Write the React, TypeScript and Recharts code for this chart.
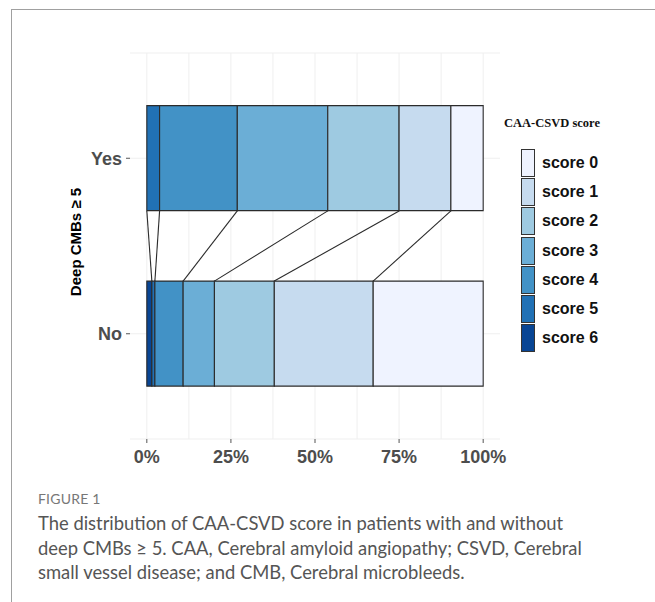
import {
  Bar,
  BarChart,
  CartesianGrid,
  Legend,
  ReferenceLine,
  XAxis,
  YAxis,
} from "recharts";

const categories = ["Yes", "No"];
const scores = ["score 0", "score 1", "score 2", "score 3", "score 4", "score 5", "score 6"];
const colors = ["#eff3ff", "#c6dbef", "#9ecae1", "#6baed6", "#4292c6", "#2171b5", "#084594"];

// percent of patients per score, index = score
const yesValues = [9.6, 15.4, 21.2, 26.9, 23.1, 3.8, 0];
const noValues = [32.7, 29.4, 17.8, 9.3, 8.4, 0.9, 1.5];

const xTicks = [0, 25, 50, 75, 100];
const gridValues = [0, 12.5, 25, 37.5, 50, 62.5, 75, 87.5, 100];

// bars stack from score 6 on the left to score 0 on the right
const stackOrder = [6, 5, 4, 3, 2, 1, 0];

const data = categories.map((name, i) => {
  const vals = i === 0 ? yesValues : noValues;
  const row: Record<string, string | number> = { name };
  scores.forEach((s, j) => {
    row[s] = vals[j];
  });
  return row;
});

const edges = (vals: number[]) => {
  let acc = 0;
  return stackOrder.slice(0, -1).map((j) => (acc += vals[j]));
};
const yesEdges = edges(yesValues);
const noEdges = edges(noValues);

const tickStyle = {
  fill: "#4d4d4d",
  fontSize: 18,
  fontWeight: 700,
  fontFamily: "'Liberation Sans', Arial, sans-serif",
};

function ScoreLegend() {
  return (
    <div style={{ fontFamily: "'Liberation Sans', Arial, sans-serif" }}>
      <div
        style={{
          fontFamily: "'Liberation Serif', 'Times New Roman', serif",
          fontWeight: 700,
          fontSize: 12.5,
          color: "#111",
          marginBottom: 17,
          whiteSpace: "nowrap",
        }}
      >
        CAA-CSVD score
      </div>
      {scores.map((s, i) => (
        <div
          key={s}
          style={{ display: "flex", alignItems: "center", height: 29.3, marginLeft: 17 }}
        >
          <div
            style={{
              width: 12,
              height: 26,
              background: colors[i],
              border: "1px solid #333",
            }}
          />
          <span style={{ marginLeft: 7, fontSize: 16, fontWeight: 700, color: "#111" }}>
            {s}
          </span>
        </div>
      ))}
    </div>
  );
}

export default function App() {
  return (
    <div style={{ position: "absolute", left: 0, top: 0, width: 655, height: 602, background: "#fff" }}>
      <div style={{ position: "absolute", left: 11, top: 9, width: 644, height: 1, background: "#a0a0a0" }} />
      <div style={{ position: "absolute", left: 11, top: 9, width: 1, height: 593, background: "#a0a0a0" }} />

      <div style={{ position: "absolute", left: 0, top: 0 }}>
        <BarChart
          width={655}
          height={480}
          data={data}
          layout="vertical"
          barCategoryGap="20%"
          margin={{ top: 53, right: 155, bottom: 11, left: 80 }}
        >
          <CartesianGrid
            stroke="#efefef"
            verticalCoordinatesGenerator={({ xAxis, offset }: any) =>
              gridValues.map((v) =>
                typeof xAxis?.scale === "function"
                  ? xAxis.scale(v)
                  : offset.left + ((v + 5) / 110) * offset.width
              )
            }
          />
          <XAxis
            type="number"
            domain={[-5, 105]}
            ticks={xTicks}
            allowDataOverflow
            tickFormatter={(v) => `${v}%`}
            axisLine={false}
            tickLine={{ stroke: "#555" }}
            tickSize={4}
            tickMargin={7}
            height={30}
            tick={tickStyle}
          />
          <YAxis
            type="category"
            dataKey="name"
            width={50}
            axisLine={false}
            tickLine={{ stroke: "#555" }}
            tickSize={4}
            tickMargin={4}
            padding={{ top: 17.5, bottom: 17.5 }}
            tick={tickStyle}
            label={{
              content: ({ viewBox }: any) => (
                <text
                  x={viewBox.x - 5}
                  y={viewBox.y + viewBox.height / 2 - 4}
                  transform={`rotate(-90 ${viewBox.x - 5} ${viewBox.y + viewBox.height / 2 - 4})`}
                  textAnchor="middle"
                  dominantBaseline="central"
                  fontSize={15}
                  fontWeight={700}
                  fontFamily="'Liberation Sans', Arial, sans-serif"
                  fill="#000"
                >
                  Deep CMBs ≥ 5
                </text>
              ),
            }}
          />
          <YAxis
            yAxisId="num"
            type="number"
            domain={[0, 1]}
            allowDataOverflow
            hide
            padding={{ top: 17.5, bottom: 17.5 }}
          />
          {stackOrder.map((j) => (
            <Bar
              key={scores[j]}
              dataKey={scores[j]}
              stackId="a"
              fill={colors[j]}
              stroke="#2b2b2b"
              strokeWidth={1.1}
              isAnimationActive={false}
            />
          ))}
          {yesEdges.map((e, k) => (
            <ReferenceLine
              key={k}
              yAxisId="num"
              segment={[
                { x: e, y: 0.4 },
                { x: noEdges[k], y: 0.6 },
              ]}
              stroke="#2b2b2b"
              strokeWidth={1.1}
            />
          ))}
          <Legend
            layout="vertical"
            align="center"
            verticalAlign="middle"
            wrapperStyle={{ left: 504, top: 116, width: 140 }}
            content={() => <ScoreLegend />}
          />
        </BarChart>
      </div>

      <div
        style={{
          position: "absolute",
          left: 38,
          top: 490,
          width: 610,
          fontFamily: "Lato, 'Open Sans', sans-serif",
        }}
      >
        <div style={{ fontSize: 14, color: "#777", letterSpacing: 0.2, marginBottom: 4 }}>FIGURE 1</div>
        <div style={{ fontSize: 18.4, lineHeight: "24.5px", color: "#555", whiteSpace: "nowrap" }}>
          The distribution of CAA-CSVD score in patients with and without
          <br />
          deep CMBs ≥ 5. CAA, Cerebral amyloid angiopathy; CSVD, Cerebral
          <br />
          small vessel disease; and CMB, Cerebral microbleeds.
        </div>
      </div>
    </div>
  );
}
